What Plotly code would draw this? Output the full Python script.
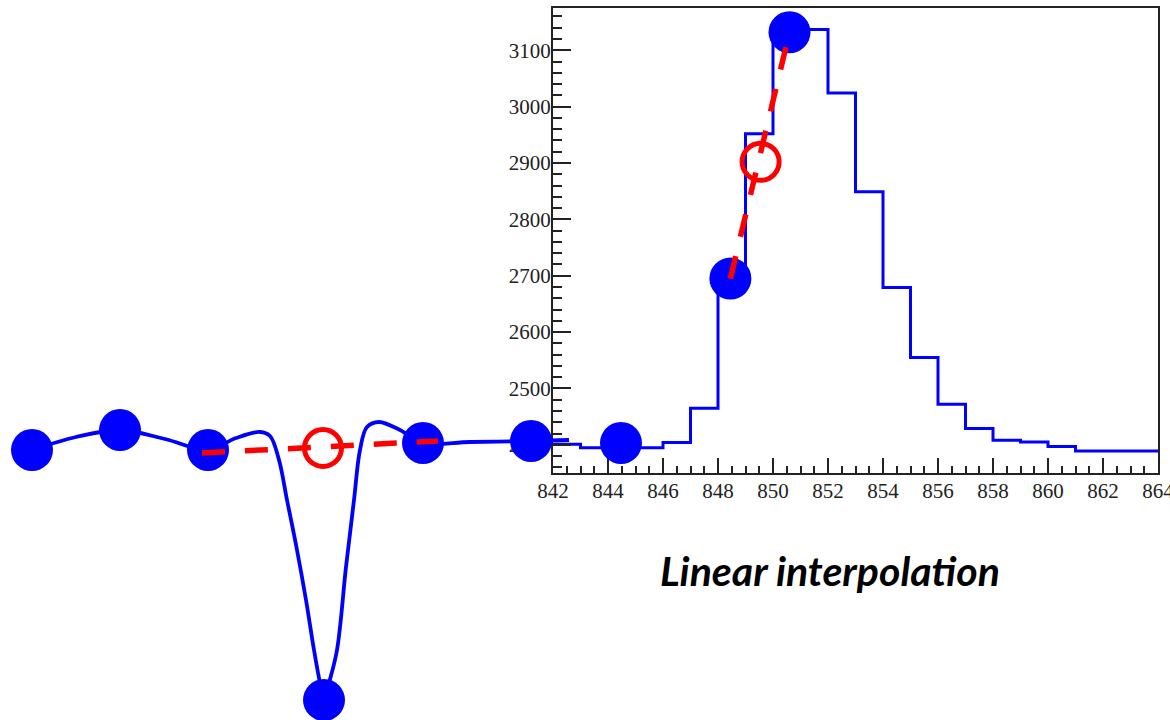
import plotly.graph_objects as go

W, H = 1170, 720

# ---------------- histogram data (ROOT style panel) ----------------
bin_low = [842, 843, 844, 845, 846, 847, 848, 849, 850, 851, 852, 853,
           854, 855, 856, 857, 858, 859, 860, 861, 862, 863]
bin_cont = [2401, 2395, 2395, 2395, 2404, 2465, 2700, 2952, 3135, 3137, 3024, 2849,
            2679, 2555, 2472, 2429, 2408, 2405, 2397, 2389, 2389, 2389]
x_ticks = [842, 844, 846, 848, 850, 852, 854, 856, 858, 860, 862, 864]
y_ticks = [2400, 2500, 2600, 2700, 2800, 2900, 3000, 3100]

# interpolation points on histogram
interp_x = [848.45, 850.6]
interp_y = [2695, 3132]
interp_pt_x = [849.55]
interp_pt_y = [2902]

# ---------------- left diagram (arbitrary drawing units) ----------------
dots_x = [32, 120, 208, 324, 423, 531, 621]
dots_y = [450, 430, 450, 700, 443, 441, 443]
curve_x = [32, 76, 120, 165, 208, 236, 260, 270, 279, 287, 297, 306, 314, 320, 324,
           329, 337, 346, 354, 360, 367, 379, 400, 423, 470, 531, 569]
curve_y = [450, 437, 430, 439, 450, 438, 432, 436, 460, 500, 550, 600, 650, 683, 700,
           683, 650, 567, 500, 450, 427, 422, 430, 443, 442, 441, 440]
lin_x = [202, 438]
lin_y = [453, 441]
lin_pt_x = [323]
lin_pt_y = [448]

label_text = "Linear interpolation"

BLUE = "#0000FF"
RED = "#FF0000"
AX = "#222222"

fig = go.Figure()

# histogram as step line
hx = bin_low + [864]
hy = bin_cont + [bin_cont[-1]]
fig.add_trace(go.Scatter(x=hx, y=hy, mode="lines", line=dict(color=BLUE, width=3, shape="hv"),
                         xaxis="x", yaxis="y", hoverinfo="skip"))
fig.add_trace(go.Scatter(x=interp_x, y=interp_y, mode="markers",
                         marker=dict(color=BLUE, size=42, line=dict(width=0)),
                         xaxis="x", yaxis="y", cliponaxis=False, hoverinfo="skip"))
fig.add_trace(go.Scatter(x=interp_x, y=interp_y, mode="lines",
                         line=dict(color=RED, width=5.5, dash="23px,20px"),
                         xaxis="x", yaxis="y", cliponaxis=False, hoverinfo="skip"))
fig.add_trace(go.Scatter(x=interp_pt_x, y=interp_pt_y, mode="markers",
                         marker=dict(symbol="circle-open", color=RED, size=37, line=dict(width=5, color=RED)),
                         xaxis="x", yaxis="y", cliponaxis=False, hoverinfo="skip"))

# left diagram on overlay axes
fig.add_trace(go.Scatter(x=curve_x, y=curve_y, mode="lines",
                         line=dict(color=BLUE, width=3.8, shape="spline", smoothing=1.0),
                         xaxis="x2", yaxis="y2", hoverinfo="skip"))
fig.add_trace(go.Scatter(x=dots_x, y=dots_y, mode="markers",
                         marker=dict(color=BLUE, size=42, line=dict(width=0)),
                         xaxis="x2", yaxis="y2", cliponaxis=False, hoverinfo="skip"))
fig.add_trace(go.Scatter(x=lin_x, y=lin_y, mode="lines",
                         line=dict(color=RED, width=5.5, dash="23px,20px"),
                         xaxis="x2", yaxis="y2", hoverinfo="skip"))
fig.add_trace(go.Scatter(x=lin_pt_x, y=lin_pt_y, mode="markers",
                         marker=dict(symbol="circle-open", color=RED, size=37, line=dict(width=5, color=RED)),
                         xaxis="x2", yaxis="y2", cliponaxis=False, hoverinfo="skip"))

tickfont = dict(family="Liberation Serif", size=21, color=AX)

fig.update_layout(
    width=W, height=H,
    margin=dict(l=0, r=0, t=0, b=0, pad=0, autoexpand=False),
    paper_bgcolor="white", plot_bgcolor="rgba(0,0,0,0)",
    showlegend=False,
    xaxis=dict(domain=[553 / W, 1158 / W], range=[842, 864], tickvals=x_ticks,
               ticks="inside", ticklen=15, tickwidth=2, tickcolor=AX,
               minor=dict(ticks="inside", dtick=0.5, tick0=842, ticklen=7, tickwidth=2, tickcolor=AX),
               showline=True, linecolor=AX, linewidth=2, mirror=True,
               showgrid=False, zeroline=False, tickfont=tickfont, anchor="y",
               ticklabeloverflow="allow", ticklabelstandoff=-2, fixedrange=True),
    yaxis=dict(domain=[1 - 473 / H, 1 - 8 / H], range=[2350, 3175], tickvals=y_ticks,
               ticks="inside", ticklen=18, tickwidth=2, tickcolor=AX,
               minor=dict(ticks="inside", dtick=20, tick0=2400, ticklen=9, tickwidth=2, tickcolor=AX),
               showline=True, linecolor=AX, linewidth=2, mirror=True,
               showgrid=False, zeroline=False, tickfont=tickfont, anchor="x",
               ticklabeloverflow="allow", ticklabelstandoff=-4, fixedrange=True),
    xaxis2=dict(domain=[0, 1], range=[0, W], visible=False, anchor="y2", fixedrange=True),
    yaxis2=dict(domain=[0, 1], range=[H, 0], visible=False, anchor="x2", fixedrange=True),
    annotations=[dict(text="<b><i>" + label_text + "</i></b>", x=830 / W, y=1 - 570 / H,
                      xref="paper", yref="paper", showarrow=False,
                      font=dict(family="Lato", size=41, color="black"),
                      xanchor="center", yanchor="middle")],
)

fig.write_html("out.html")
